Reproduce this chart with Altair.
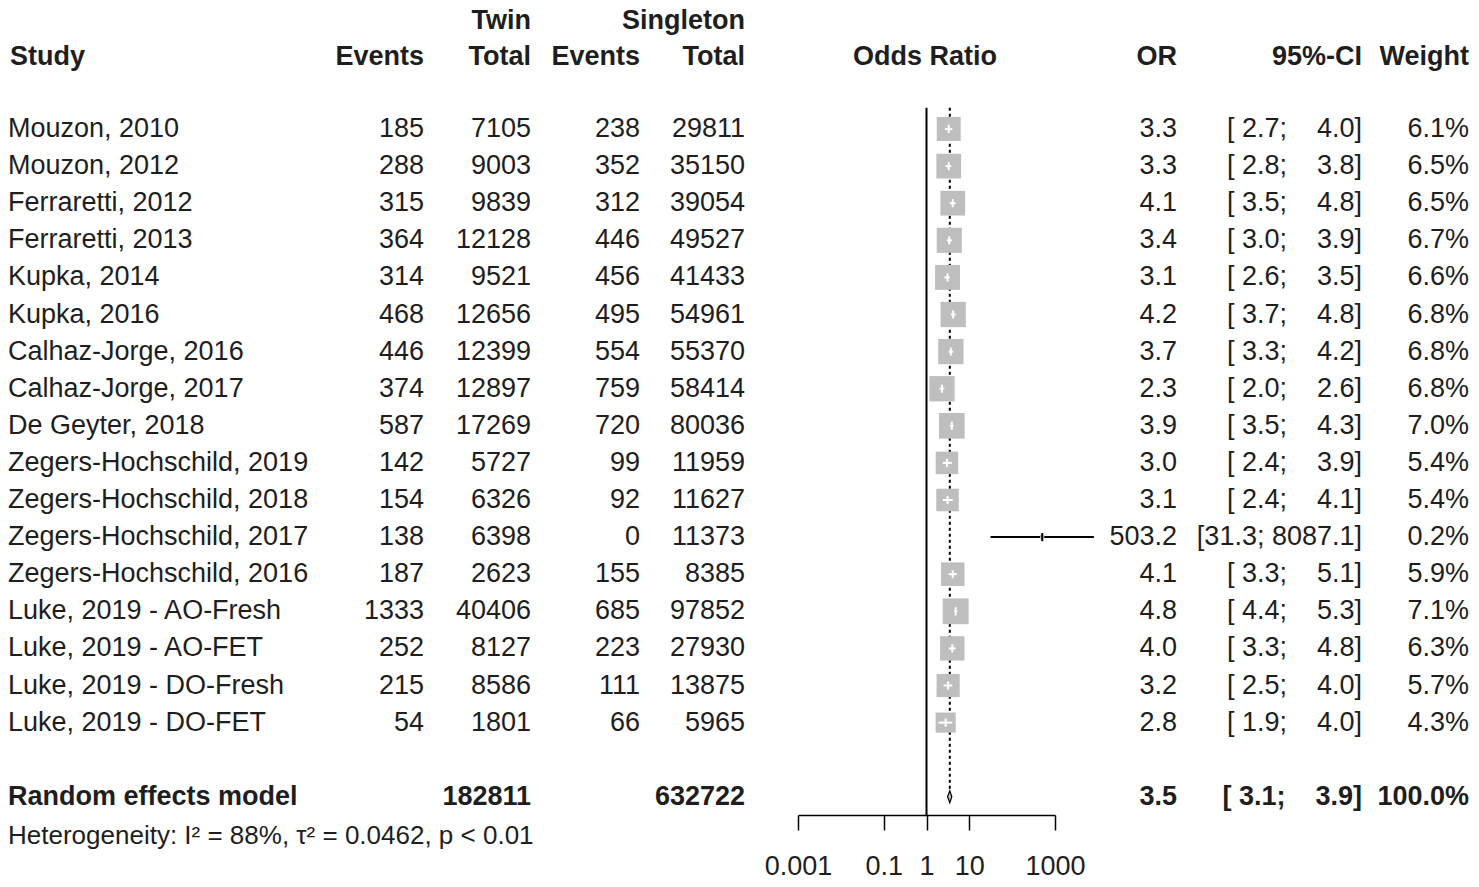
import altair as alt
import pandas as pd

# ---------------- data ----------------
studies = ["Mouzon, 2010", "Mouzon, 2012", "Ferraretti, 2012", "Ferraretti, 2013",
           "Kupka, 2014", "Kupka, 2016", "Calhaz-Jorge, 2016", "Calhaz-Jorge, 2017",
           "De Geyter, 2018", "Zegers-Hochschild, 2019", "Zegers-Hochschild, 2018",
           "Zegers-Hochschild, 2017", "Zegers-Hochschild, 2016", "Luke, 2019 - AO-Fresh",
           "Luke, 2019 - AO-FET", "Luke, 2019 - DO-Fresh", "Luke, 2019 - DO-FET"]
twin_events = [185, 288, 315, 364, 314, 468, 446, 374, 587, 142, 154, 138, 187, 1333, 252, 215, 54]
twin_total = [7105, 9003, 9839, 12128, 9521, 12656, 12399, 12897, 17269, 5727, 6326, 6398, 2623,
              40406, 8127, 8586, 1801]
single_events = [238, 352, 312, 446, 456, 495, 554, 759, 720, 99, 92, 0, 155, 685, 223, 111, 66]
single_total = [29811, 35150, 39054, 49527, 41433, 54961, 55370, 58414, 80036, 11959, 11627,
                11373, 8385, 97852, 27930, 13875, 5965]
odds = [3.3, 3.3, 4.1, 3.4, 3.1, 4.2, 3.7, 2.3, 3.9, 3.0, 3.1, 503.2, 4.1, 4.8, 4.0, 3.2, 2.8]
ci_lower = [2.7, 2.8, 3.5, 3.0, 2.6, 3.7, 3.3, 2.0, 3.5, 2.4, 2.4, 31.3, 3.3, 4.4, 3.3, 2.5, 1.9]
ci_upper = [4.0, 3.8, 4.8, 3.9, 3.5, 4.8, 4.2, 2.6, 4.3, 3.9, 4.1, 8087.1, 5.1, 5.3, 4.8, 4.0, 4.0]
weights = [6.1, 6.5, 6.5, 6.7, 6.6, 6.8, 6.8, 6.8, 7.0, 5.4, 5.4, 0.2, 5.9, 7.1, 6.3, 5.7, 4.3]

pooled_label = "Random effects model"
pooled_twin_total = 182811
pooled_single_total = 632722
pooled_or = 3.5
pooled_lower = 3.1
pooled_upper = 3.9
pooled_weight = 100.0
heterogeneity = "Heterogeneity: I\u00b2 = 88%, \u03c4\u00b2 = 0.0462, p < 0.01"
tick_values = [0.001, 0.1, 1, 10, 1000]

# ---------------- tables ----------------
NB = "\u00a0"
LO_W = max(len(f"{v:.1f}") for v in ci_lower)
HI_W = max(len(f"{v:.1f}") for v in ci_upper)


def ci_string(lo, hi):
    s = "[" + f"{lo:.1f}".rjust(LO_W) + "; " + f"{hi:.1f}".rjust(HI_W) + "]"
    return s.replace(" ", NB)


df = pd.DataFrame(dict(study=studies, te=twin_events, tt=twin_total, se=single_events,
                       st=single_total, odds=odds, lo=ci_lower, hi=ci_upper, w=weights))
df["row"] = range(len(df))
df["or_txt"] = df.odds.map(lambda v: f"{v:.1f}")
df["ci_txt"] = [ci_string(a, b) for a, b in zip(ci_lower, ci_upper)]
df["w_txt"] = df.w.map(lambda v: f"{v:.1f}%")
df["inner"] = df.w >= 1

POOL_ROW = len(df) + 1
pool = pd.DataFrame([dict(label=pooled_label, tt=pooled_twin_total, st=pooled_single_total,
                          odds=pooled_or, lo=pooled_lower, hi=pooled_upper, row=POOL_ROW,
                          or_txt=f"{pooled_or:.1f}",
                          ci_txt=ci_string(pooled_lower, pooled_upper),
                          w_txt=f"{pooled_weight:.1f}%")])
DH = 0.16
diamond = pd.DataFrame(dict(x=[pooled_lower, pooled_or, pooled_upper],
                            y1=[POOL_ROW, POOL_ROW - DH, POOL_ROW],
                            y2=[POOL_ROW, POOL_ROW + DH, POOL_ROW]))

# ---------------- styling ----------------
FONT = "Liberation Sans"
FS = 27
INK = "#1e1e1e"
yscale = alt.Scale(domain=[-3, 20], range=[9.7, 863], nice=False, zero=False)
xscale = alt.Scale(type="log", domain=[0.001, 1000], range=[790, 1047], nice=False)
xaxis = alt.Axis(values=tick_values, labelExpr="'' + datum.value", tickSize=15, tickWidth=1.5,
                 tickColor="black", domainColor="black", domainWidth=1.5, labelFont=FONT,
                 labelFontSize=FS, labelColor=INK, labelPadding=23, grid=False, title=None,
                 offset=-64, labelFlush=False, labelOverlap=False)


def X(field, **kw):
    return alt.X(field, scale=xscale, axis=xaxis, **kw)


def Y(field, **kw):
    return alt.Y(field, scale=yscale, axis=None, **kw)


def col_text(data, field, x, align, bold=False, fs=FS, fmt=None):
    txt = alt.Text(field, format=fmt) if fmt else alt.Text(field)
    return alt.Chart(data).mark_text(align=align, baseline="middle", font=FONT, fontSize=fs,
                                     fontWeight="bold" if bold else "normal",
                                     color=INK).encode(
        x=alt.value(x), y=Y("row:Q"), text=txt)


def header(text, x, row, align):
    return alt.Chart(pd.DataFrame({"t": [text]})).mark_text(
        align=align, baseline="middle", font=FONT, fontSize=FS, fontWeight="bold",
        color=INK).encode(x=alt.value(x), y=alt.YDatum(row, scale=yscale, axis=None),
                          text="t:N")


# ---------------- forest marks ----------------
base = alt.Chart(df)
null_line = alt.Chart(pool).mark_rule(color="black", strokeWidth=2).encode(
    x=alt.XDatum(1, scale=xscale, axis=xaxis),
    y=alt.YDatum(-0.57, scale=yscale, axis=None), y2=alt.Y2Datum(18.5))
pool_line = alt.Chart(pool).mark_rule(color="black", strokeWidth=2, strokeDash=[3, 3]).encode(
    x=X("odds:Q"), y=alt.YDatum(-0.57, scale=yscale, axis=None), y2=alt.Y2Datum(17.8))
ci_black = base.mark_rule(color="black", strokeWidth=2).encode(
    x=X("lo:Q"), x2="hi:Q", y=Y("row:Q"))
boxes = base.mark_square(color="#bebebe", opacity=1).encode(
    x=X("odds:Q"), y=Y("row:Q"),
    size=alt.Size("w:Q", scale=alt.Scale(type="linear", domain=[0, 10], range=[0, 940]),
                  legend=None))
ci_white = base.transform_filter("datum.inner").mark_rule(color="white", strokeWidth=2).encode(
    x=X("lo:Q"), x2="hi:Q", y=Y("row:Q"))
est_tick = base.transform_calculate(
    ya="datum.row - 0.11", yb="datum.row + 0.11",
    col="datum.inner ? 'white' : 'black'").mark_rule(strokeWidth=2).encode(
    x=X("odds:Q"), y=Y("ya:Q"), y2="yb:Q", color=alt.Color("col:N", scale=None))
diam = alt.Chart(diamond).mark_area(orient="vertical", color="#bebebe", stroke="black",
                                    strokeWidth=1.2).encode(
    x=X("x:Q"), y=Y("y1:Q"), y2="y2:Q")

# ---------------- table text ----------------
texts = [
    col_text(df, "study:N", 0, "left"),
    col_text(df, "te:Q", 416, "right", fmt="d"),
    col_text(df, "tt:Q", 523, "right", fmt="d"),
    col_text(df, "se:Q", 632, "right", fmt="d"),
    col_text(df, "st:Q", 737, "right", fmt="d"),
    col_text(df, "or_txt:N", 1169, "right"),
    col_text(df, "ci_txt:N", 1354, "right"),
    col_text(df, "w_txt:N", 1461, "right"),
    col_text(pool, "label:N", 0, "left", bold=True),
    col_text(pool, "tt:Q", 523, "right", bold=True, fmt="d"),
    col_text(pool, "st:Q", 737, "right", bold=True, fmt="d"),
    col_text(pool, "or_txt:N", 1169, "right", bold=True),
    col_text(pool, "ci_txt:N", 1354, "right", bold=True),
    col_text(pool, "w_txt:N", 1461, "right", bold=True),
    header("Twin", 523, -2.9, "right"),
    header("Singleton", 737, -2.9, "right"),
    header("Study", 2, -1.94, "left"),
    header("Events", 416, -1.94, "right"),
    header("Total", 523, -1.94, "right"),
    header("Events", 632, -1.94, "right"),
    header("Total", 737, -1.94, "right"),
    header("Odds Ratio", 917, -1.94, "center"),
    header("OR", 1169, -1.94, "right"),
    header("95%-CI", 1354, -1.94, "right"),
    header("Weight", 1461, -1.94, "right"),
]
het = alt.Chart(pd.DataFrame({"t": [heterogeneity]})).mark_text(
    align="left", baseline="middle", font=FONT, fontSize=26, color=INK).encode(
    x=alt.value(0), y=alt.YDatum(19.05, scale=yscale, axis=None), text="t:N")

chart = alt.layer(null_line, pool_line, ci_black, boxes, ci_white, est_tick, diam,
                  *texts, het).properties(
    width=1463, height=871, padding=0, background="white",
    autosize=alt.AutoSizeParams(type="none")
).configure_view(stroke=None, strokeWidth=0)

chart.save("out.html", embed_options={"renderer": "svg", "actions": False})
